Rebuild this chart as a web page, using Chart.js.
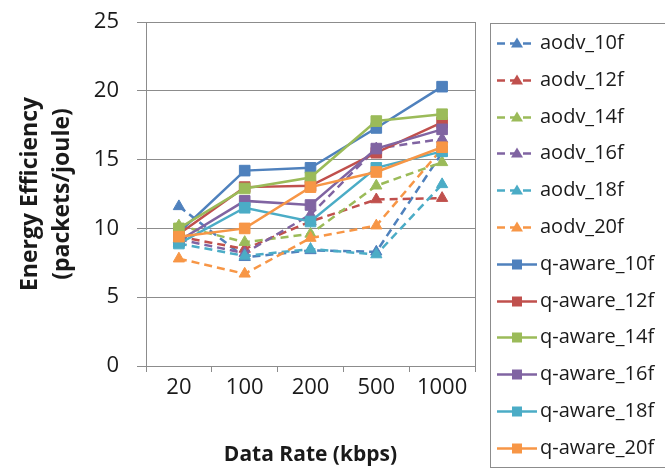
<!DOCTYPE html>
<html>
<head>
<meta charset="utf-8">
<script src="https://cdn.jsdelivr.net/npm/chart.js@4"></script>
<style>
  html, body { margin: 0; padding: 0; background: #fff; }
</style>
</head>
<body>
<canvas id="myChart" width="665" height="476"></canvas>
<script>
// data
const rates = ["20", "100", "200", "500", "1000"];
const seriesNames = ["aodv_10f", "aodv_12f", "aodv_14f", "aodv_16f", "aodv_18f", "aodv_20f",
  "q-aware_10f", "q-aware_12f", "q-aware_14f", "q-aware_16f", "q-aware_18f", "q-aware_20f"];

const aodv10 = [11.6, 7.9, 8.4, 8.3, 15.5];
const aodv12 = [9.4, 8.5, 10.5, 12.1, 12.2];
const aodv14 = [10.2, 9.0, 9.6, 13.1, 14.8];
const aodv16 = [9.2, 8.2, 11.0, 15.8, 16.5];
const aodv18 = [8.9, 8.0, 8.5, 8.1, 13.2];
const aodv20 = [7.8, 6.7, 9.3, 10.2, 15.8];
const qaware10 = [9.7, 14.2, 14.4, 17.3, 20.3];
const qaware12 = [9.6, 13.0, 13.1, 15.5, 17.7];
const qaware14 = [10.0, 12.9, 13.7, 17.8, 18.3];
const qaware16 = [9.1, 12.0, 11.7, 15.8, 17.2];
const qaware18 = [8.9, 11.5, 10.5, 14.4, 15.6];
const qaware20 = [9.4, 10.0, 13.0, 14.1, 15.9];

const yTicks = [0, 5, 10, 15, 20, 25];

const allValues = [aodv10, aodv12, aodv14, aodv16, aodv18, aodv20,
  qaware10, qaware12, qaware14, qaware16, qaware18, qaware20];

// office palette
const colors = ["#4F81BD", "#C0504D", "#9BBB59", "#8064A2", "#4BACC6", "#F79646"];
const fontName = "'Open Sans', sans-serif";
const axisGray = "#8c8c8c";

const datasets = allValues.map((vals, i) => {
  const isAodv = i < 6;
  const c = colors[i % 6];
  return {
    label: seriesNames[i],
    data: vals,
    borderColor: c,
    backgroundColor: c,
    borderWidth: 2.5,
    borderDash: isAodv ? [8, 5] : [],
    pointStyle: isAodv ? "triangle" : "rect",
    pointRadius: isAodv ? 6.5 : 7.5,
    pointBorderWidth: 1,
    tension: 0,
    order: -i,
  };
});

// frame on the right side of the plot
const frame = {
  id: "frame",
  beforeDatasetsDraw(chart) {
    const { ctx, chartArea } = chart;
    ctx.save();
    ctx.strokeStyle = axisGray;
    ctx.lineWidth = 1;
    ctx.beginPath();
    ctx.moveTo(Math.round(chartArea.right) + 0.5, chartArea.top);
    ctx.lineTo(Math.round(chartArea.right) + 0.5, chartArea.bottom);
    ctx.stroke();
    ctx.restore();
  },
};

// excel style legend with line + marker sample
const boxLegend = {
  id: "boxLegend",
  afterDraw(chart) {
    const ctx = chart.ctx;
    ctx.save();
    ctx.strokeStyle = axisGray;
    ctx.lineWidth = 1;
    ctx.strokeRect(490.5, 23.5, 180, 444);
    chart.data.datasets.forEach((ds, i) => {
      const y = Math.round(43 + i * 36.8) + 0.5;
      ctx.strokeStyle = ds.borderColor;
      ctx.fillStyle = ds.borderColor;
      ctx.lineWidth = 2.5;
      ctx.setLineDash(ds.borderDash.length ? [8, 5] : []);
      ctx.beginPath();
      ctx.moveTo(497, y);
      ctx.lineTo(ds.borderDash.length ? 531 : 537, y);
      ctx.stroke();
      ctx.setLineDash([]);
      const mx = 517;
      ctx.beginPath();
      if (ds.pointStyle === "triangle") {
        ctx.moveTo(mx, y - 6);
        ctx.lineTo(mx + 6, y + 4);
        ctx.lineTo(mx - 6, y + 4);
        ctx.closePath();
      } else {
        ctx.rect(mx - 5, y - 5, 10, 10);
      }
      ctx.fill();
      ctx.fillStyle = "#1a1a1a";
      ctx.font = "20px " + fontName;
      ctx.textBaseline = "middle";
      ctx.textAlign = "left";
      ctx.fillText(ds.label, 540, y);
    });
    ctx.restore();
  },
};

const ctx = document.getElementById("myChart").getContext("2d");
const myChart = new Chart(ctx, {
  type: "line",
  data: { labels: rates, datasets: datasets },
  options: {
    responsive: false,
    animation: false,
    devicePixelRatio: 1,
    layout: { padding: { left: 0, top: 22, right: 190, bottom: 0 } },
    plugins: { legend: { display: false }, tooltip: { enabled: false } },
    scales: {
      x: {
        offset: true,
        afterFit: (scale) => { scale.height = 110; },
        grid: { offset: true, drawOnChartArea: false, tickLength: 6, color: axisGray },
        border: { color: axisGray },
        ticks: { color: "#1a1a1a", font: { family: fontName, size: 22 }, padding: 3 },
        title: {
          display: true,
          text: "Data Rate (kbps)",
          color: "#1a1a1a",
          font: { family: fontName, size: 21, weight: "bold" },
          padding: { top: 0, bottom: 8 },
        },
      },
      y: {
        min: 0,
        max: 25,
        afterFit: (scale) => {
          scale.width = 146;
          // keep the tick padding from pushing the plot top down
          scale.paddingTop = 13;
          scale.paddingBottom = 13;
        },
        afterBuildTicks: (scale) => { scale.ticks = yTicks.map((v) => ({ value: v })); },
        grid: { color: axisGray, tickLength: 9 },
        border: { color: axisGray },
        ticks: { color: "#1a1a1a", font: { family: fontName, size: 22 }, padding: 18 },
        title: {
          display: true,
          text: ["Energy Efficiency", "(packets/joule)"],
          color: "#1a1a1a",
          font: { family: fontName, size: 23, weight: "bold", lineHeight: "32px" },
          padding: { top: 14, bottom: 0 },
        },
      },
    },
  },
  plugins: [frame, boxLegend],
});
</script>
</body>
</html>
